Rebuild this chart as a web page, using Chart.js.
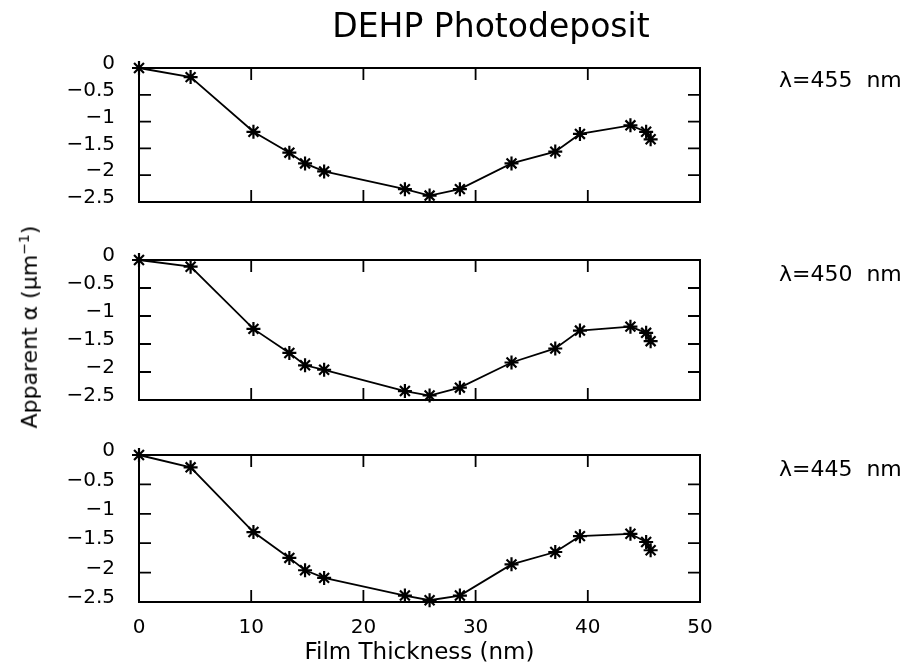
<!DOCTYPE html>
<html>
<head>
<meta charset="utf-8">
<script src="https://cdn.jsdelivr.net/npm/chart.js@4.4.1/dist/chart.umd.min.js"></script>
<style>
html,body{margin:0;padding:0;background:#fff;}
#wrap{position:relative;width:912px;height:672px;overflow:hidden;background:#fff;font-family:"DejaVu Sans",sans-serif;color:#000;}
canvas.cv{position:absolute;left:0;}
.txt{position:absolute;white-space:pre;line-height:1;}
</style>
</head>
<body>
<div id="wrap">
  <canvas id="c1" class="cv" width="912" height="190" style="top:40px;width:912px;height:190px"></canvas>
  <canvas id="c2" class="cv" width="912" height="196" style="top:232px;width:912px;height:196px"></canvas>
  <canvas id="c3" class="cv" width="912" height="245" style="top:427px;width:912px;height:245px"></canvas>
  <div id="title" class="txt" style="left:491px;top:25px;font-size:33px;transform:translate(-50%,-50%);"></div>
  <div id="ylab" class="txt" style="left:29px;top:327px;font-size:22px;transform:translate(-50%,-50%) rotate(-90deg);"></div>
  <div id="lab0" class="txt" style="left:779px;top:80px;font-size:22px;transform:translateY(-50%);"></div>
  <div id="lab1" class="txt" style="left:779px;top:274px;font-size:22px;transform:translateY(-50%);"></div>
  <div id="lab2" class="txt" style="left:779px;top:469px;font-size:22px;transform:translateY(-50%);"></div>
</div>
<script>
// ---- data ----
const chartTitle = 'DEHP Photodeposit';
const xAxisTitle = 'Film Thickness (nm)';
const yAxisTitleHtml = 'Apparent α (μm<sup style="font-size:14px">−1</sup>)';
const panelLabels = ['λ=455  nm', 'λ=450  nm', 'λ=445  nm'];

const thickness = [0, 4.6, 10.2, 13.4, 14.8, 16.5, 23.7, 25.9, 28.6, 33.2, 37.1, 39.3, 43.8, 45.2, 45.6];
const alpha455  = [0, -0.17, -1.19, -1.58, -1.78, -1.93, -2.26, -2.38, -2.26, -1.78, -1.56, -1.23, -1.07, -1.19, -1.33];
const alpha450  = [0, -0.12, -1.23, -1.66, -1.88, -1.96, -2.34, -2.42, -2.28, -1.83, -1.58, -1.26, -1.19, -1.30, -1.45];
const alpha445  = [0, -0.21, -1.31, -1.75, -1.96, -2.09, -2.39, -2.47, -2.39, -1.86, -1.65, -1.38, -1.34, -1.48, -1.62];

const xTickValues = [0, 10, 20, 30, 40, 50];
const xTickLabels = ['0', '10', '20', '30', '40', '50'];
const yTickValues = [0, -0.5, -1, -1.5, -2, -2.5];
const yTickLabels = ['0', '−0.5', '−1', '−1.5', '−2', '−2.5'];

// ---- text ----
document.getElementById('title').textContent = chartTitle;
document.getElementById('ylab').innerHTML = yAxisTitleHtml;
panelLabels.forEach((t, i) => { document.getElementById('lab' + i).textContent = t; });

const FONT = '"DejaVu Sans", sans-serif';

// box with inward tick marks on all four sides (MATLAB style)
const framePlugin = {
  id: 'frame',
  afterDraw(chart) {
    const ctx = chart.ctx;
    const {left, right, top, bottom} = chart.chartArea;
    const xs = chart.scales.x, ys = chart.scales.y;
    ctx.save();
    ctx.strokeStyle = '#000';
    ctx.lineWidth = 2;
    ctx.strokeRect(left, top, right - left, bottom - top);
    ctx.lineWidth = 1.8;
    const L = 12;
    ctx.beginPath();
    xs.ticks.forEach(t => {
      const px = xs.getPixelForValue(t.value);
      if (px <= left + 1 || px >= right - 1) return;
      ctx.moveTo(px, top); ctx.lineTo(px, top + L);
      ctx.moveTo(px, bottom); ctx.lineTo(px, bottom - L);
    });
    ys.ticks.forEach(t => {
      const py = ys.getPixelForValue(t.value);
      if (py <= top + 1 || py >= bottom - 1) return;
      ctx.moveTo(left, py); ctx.lineTo(left + L, py);
      ctx.moveTo(right, py); ctx.lineTo(right - L, py);
    });
    ctx.stroke();
    ctx.restore();
  }
};

function makePanel(id, values, isBottom, padTop, padBottom) {
  const pts = thickness.map((x, i) => ({x: x, y: values[i]}));
  return new Chart(document.getElementById(id), {
    type: 'scatter',
    data: {
      datasets: [{
        data: pts,
        showLine: true,
        borderColor: '#000',
        borderWidth: 1.8,
        tension: 0,
        pointStyle: 'star',
        pointRadius: 7,
        pointBorderWidth: 2.2,
        pointBorderColor: '#000',
        pointBackgroundColor: '#000',
        clip: false
      }]
    },
    plugins: [framePlugin],
    options: {
      responsive: false,
      devicePixelRatio: 1,
      animation: false,
      events: [],
      layout: {padding: {left: 0, right: 212, top: padTop, bottom: padBottom}},
      plugins: {legend: {display: false}, tooltip: {enabled: false}, title: {display: false}},
      scales: {
        x: {
          type: 'linear',
          min: 0, max: 50,
          grid: {display: false},
          border: {display: false},
          afterBuildTicks: s => { s.ticks = xTickValues.map(v => ({value: v})); },
          ticks: {
            display: isBottom,
            autoSkip: false,
            maxRotation: 0,
            padding: 6,
            color: '#000',
            font: {family: FONT, size: 20},
            callback: (v) => { const i = xTickValues.indexOf(v); return i >= 0 ? xTickLabels[i] : ''; }
          },
          title: {
            display: isBottom,
            text: xAxisTitle,
            color: '#000',
            font: {family: FONT, size: 23},
            padding: {top: 0, bottom: 5}
          },
          afterFit: s => { s.height = isBottom ? 70 : 0; }
        },
        y: {
          type: 'linear',
          min: -2.5, max: 0,
          grid: {display: false},
          border: {display: false},
          afterBuildTicks: s => { s.ticks = yTickValues.map(v => ({value: v})); },
          ticks: {
            autoSkip: false,
            padding: 16,
            labelOffset: -4,
            color: '#000',
            font: {family: FONT, size: 20},
            callback: (v) => { const i = yTickValues.indexOf(v); return i >= 0 ? yTickLabels[i] : ''; }
          },
          afterFit: s => { s.width = 139; }
        }
      }
    }
  });
}

makePanel('c1', alpha455, false, 19.5, 18);
makePanel('c2', alpha450, false, 20, 20);
makePanel('c3', alpha445, true, 20, 0);
</script>
</body>
</html>
